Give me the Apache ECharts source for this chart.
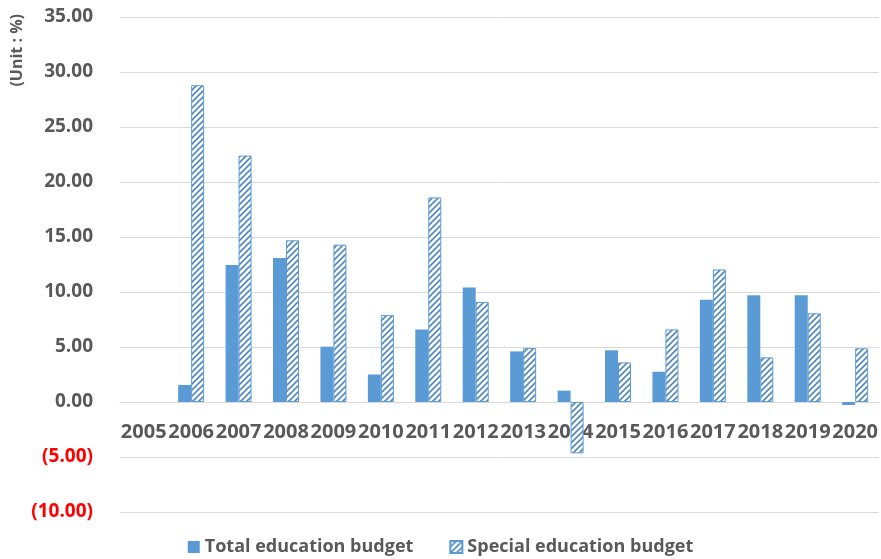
<!DOCTYPE html>
<html>
<head>
<meta charset="utf-8">
<script src="https://cdn.jsdelivr.net/npm/echarts@6/dist/echarts.min.js"></script>
<style>
  html, body { margin: 0; padding: 0; background: #fff; }
  #chart { width: 881px; height: 559px; }
</style>
</head>
<body>
<div id="chart"></div>
<script>
const years = ["2005", "2006", "2007", "2008", "2009", "2010", "2011", "2012",
  "2013", "2014", "2015", "2016", "2017", "2018", "2019", "2020"];
const totalBudget = [null, 1.55, 12.45, 13.1, 5.03, 2.5, 6.6, 10.4,
  4.6, 1.03, 4.7, 2.75, 9.3, 9.7, 9.7, -0.27];
const specialBudget = [null, 28.8, 22.4, 14.7, 14.3, 7.9, 18.6, 9.1,
  4.9, -4.67, 3.6, 6.6, 12.05, 4.06, 8.06, 4.88];
const seriesNames = ["Total education budget", "Special education budget"];

const blue = "#5B9BD5";
const textGray = "#595959";
const font = "Open Sans";

const yMin = -10;
const yMax = 35;
const yStep = 5;
const gridTop = 17;
const gridBottom = 47;
const chartHeight = 559;

// diagonal hatch for the special education bars
function hatch() {
  const c = document.createElement("canvas");
  c.width = 6;
  c.height = 6;
  const ctx = c.getContext("2d");
  ctx.fillStyle = "#ffffff";
  ctx.fillRect(0, 0, 6, 6);
  ctx.strokeStyle = "#4F87C2";
  ctx.lineWidth = 1.6;
  ctx.beginPath();
  ctx.moveTo(0, 6); ctx.lineTo(6, 0);
  ctx.moveTo(-3, 3); ctx.lineTo(3, -3);
  ctx.moveTo(3, 9); ctx.lineTo(9, 3);
  ctx.stroke();
  return c;
}

// onZero doesn't kick in here, so shift the category axis up to the zero line
const plotHeight = chartHeight - gridTop - gridBottom;
const zeroOffset = -plotHeight * (0 - yMin) / (yMax - yMin);

const chart = echarts.init(document.getElementById("chart"));

const option = {
  animation: false,
  textStyle: { fontFamily: font },
  grid: { left: 120, right: 1, top: gridTop, bottom: gridBottom, containLabel: false },
  legend: {
    bottom: -2,
    left: "center",
    itemWidth: 12,
    itemHeight: 12,
    itemGap: 36,
    icon: "rect",
    textStyle: { color: textGray, fontSize: 18, fontWeight: "bold", fontFamily: font },
    data: seriesNames,
  },
  graphic: [
    {
      type: "text",
      left: 9,
      top: 14,
      rotation: Math.PI / 2,
      style: {
        text: "(Unit : %)",
        fill: textGray,
        font: "bold 16px 'Open Sans'",
      },
    },
  ],
  xAxis: {
    type: "category",
    data: years,
    offset: zeroOffset,
    axisLine: {
      show: true,
      onZero: false,
      lineStyle: { color: "#D9D9D9", width: 1 },
    },
    axisTick: { show: false },
    axisLabel: {
      interval: 0,
      margin: 20,
      color: textGray,
      fontSize: 20,
      fontWeight: "bold",
      fontFamily: font,
    },
  },
  yAxis: {
    type: "value",
    min: yMin,
    max: yMax,
    interval: yStep,
    axisLine: { show: false },
    axisTick: { show: false },
    splitLine: { lineStyle: { color: "#D9D9D9", width: 1 } },
    axisLabel: {
      margin: 27,
      color: textGray,
      fontSize: 19,
      fontWeight: "bold",
      fontFamily: font,
      formatter: function (v) {
        if (v < 0) return "{neg|(" + Math.abs(v).toFixed(2) + ")}";
        return v.toFixed(2);
      },
      rich: {
        neg: { color: "#FF0000", fontSize: 19, fontWeight: "bold", fontFamily: font },
      },
    },
  },
  series: [
    {
      name: seriesNames[0],
      type: "bar",
      data: totalBudget,
      barWidth: 13,
      barGap: "0%",
      itemStyle: { color: blue },
    },
    {
      name: seriesNames[1],
      type: "bar",
      data: specialBudget,
      barWidth: 13,
      barGap: "0%",
      itemStyle: {
        color: { image: hatch(), repeat: "repeat" },
        borderColor: blue,
        borderWidth: 1,
      },
    },
  ],
};

chart.setOption(option);
</script>
</body>
</html>
